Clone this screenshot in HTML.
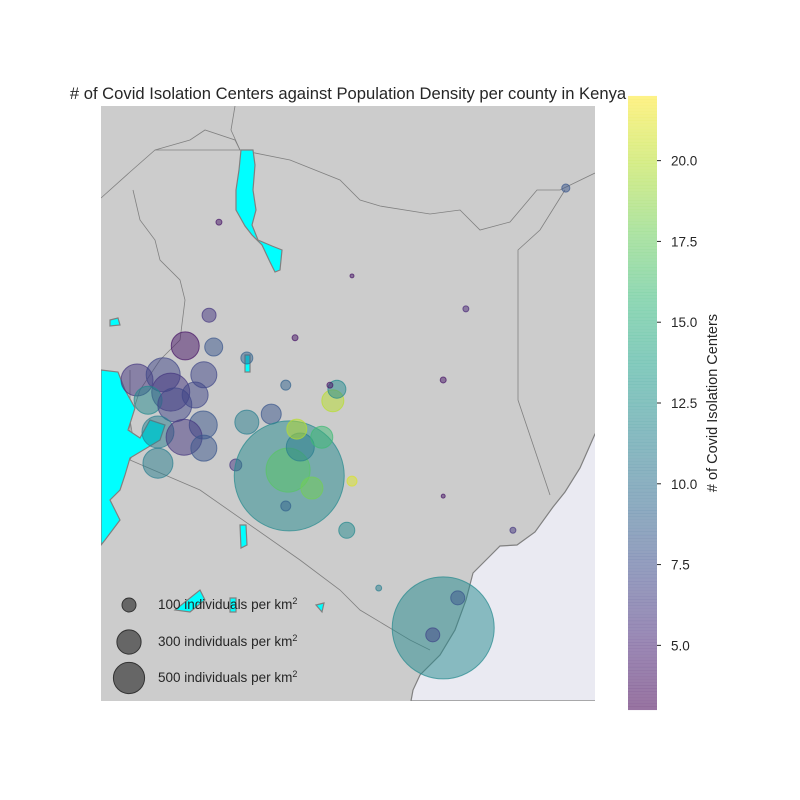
<!DOCTYPE html>
<html><head><meta charset="utf-8"><style>
html,body{margin:0;padding:0;background:#fff;}
svg{display:block;font-family:"Liberation Sans",Arial,sans-serif;}
</style></head><body>
<svg id="chart" width="800" height="800" viewBox="0 0 800 800">
<text x="348" y="99" text-anchor="middle" font-size="16.6" fill="#262626"># of Covid Isolation Centers against Population Density per county in Kenya</text>
<g>
<defs><clipPath id="mapclip"><rect x="101" y="106" width="494" height="595"/></clipPath></defs>
<g clip-path="url(#mapclip)">
<rect x="101" y="106" width="494" height="595" fill="#cccccc"/>
<polygon fill="#eaeaf2" stroke="#808080" stroke-width="1.2" points="595,434 580,468 565,492 553,507 535,532 517,545 500,546 490,556 473,573 466,600 455,630 440,655 420,675 413,690 411,701 600,701 600,434"/>
<g fill="none" stroke="#808080" stroke-width="0.8">
<polyline points="101,198 130,172 155,150 240,150 290,160 340,180 360,200 380,206 430,214 460,210 480,230 510,222 537,190 560,190 595,173"/>
<polyline points="155,150 190,140 205,130 235,140 240,150"/>
<polyline points="235,106 231,130 240,150"/>
<polyline points="565,190 540,230 518,250 518,400 550,495"/>
<polyline points="133,190 140,220 155,240 160,260 180,280 185,300 180,340 160,360 140,390 130,420 135,450 130,460 101,460"/>
<polyline points="130,460 200,490 300,560 340,590 360,610 410,640 430,650"/>
<polyline points="130,370 130,460"/>
</g>
<g fill="#00ffff" stroke="#808080" stroke-width="1.2">
<path d="M241,150 L253,150 L255,165 L253,190 L256,210 L252,225 L258,240 L272,246 L282,250 L280,270 L275,272 L270,262 L262,245 L252,235 L245,226 L236,210 L236,190 L239,170 Z"/>
<path d="M101,370 L118,372 L125,390 L135,408 L128,430 L140,438 L150,420 L165,425 L160,440 L130,458 L125,475 L120,490 L110,500 L120,520 L105,540 L101,545 Z"/>
<path d="M240,525 L246,525 L247,545 L241,548 Z"/>
<path d="M175,610 L200,590 L205,600 L190,612 Z"/>
<path d="M230,598 L236,598 L236,612 L230,612 Z"/>
<path d="M316,605 L324,603 L322,612 Z"/>
<path d="M245,355 L250,355 L250,372 L245,372 Z"/>
<path d="M110,320 L118,318 L120,325 L110,326 Z"/>
</g>
</g>
</g>
<g id="bubbles"></g>
<g id="legend">
<circle cx="129" cy="605" r="7" fill="rgba(0,0,0,0.5)" stroke="#333" stroke-width="1"/>
<circle cx="129" cy="642" r="12.1" fill="rgba(0,0,0,0.5)" stroke="#333" stroke-width="1"/>
<circle cx="129" cy="678" r="15.6" fill="rgba(0,0,0,0.5)" stroke="#333" stroke-width="1"/>
<text x="158" y="609" font-size="13.5" fill="#262626">100 individuals per km<tspan dy="-5" font-size="9">2</tspan></text>
<text x="158" y="646" font-size="13.5" fill="#262626">300 individuals per km<tspan dy="-5" font-size="9">2</tspan></text>
<text x="158" y="682" font-size="13.5" fill="#262626">500 individuals per km<tspan dy="-5" font-size="9">2</tspan></text>
</g>
<g id="colorbar"></g>
<text transform="translate(717,403) rotate(-90)" text-anchor="middle" font-size="14.5" fill="#262626"># of Covid Isolation Centers</text>
</svg>
<script>
const lons=[35.36,34.95,35.44,36.01,34.12,34.57,35.27,34.70,35.12,34.31,34.77,35.26,34.48,34.93,35.27,34.48,36.01,36.43,35.82,36.74,36.72,36.93,37.30,36.87,37.13,36.68,37.49,37.56,37.44,36.68,37.82,37.73,36.84,37.82,35.53,39.78,39.39,39.39,41.50,39.39,39.64,39.21,38.28,40.59];
const lats=[1.68,1.15,1.13,0.94,0.56,0.65,0.65,0.35,0.30,0.21,0.13,-0.22,-0.34,-0.43,-0.62,-0.88,-0.17,-0.03,-0.91,-1.10,-1.00,-0.60,-0.43,-0.29,-1.31,-1.62,0.20,0.40,0.47,0.47,-1.19,-2.04,1.29,2.36,3.29,1.79,0.56,-1.45,3.88,-3.73,-3.21,-3.85,-3.04,-2.04];
const densities=[100,400,165,73,522,590,345,737,345,400,590,400,522,661,345,459,294,204,73,6173,988,400,247,204,247,51,247,165,18,51,51,131,18,8,18,18,18,8,33,5308,100,100,18,18];
const centers=[6,4,8,9,6,7,7,6,7,12,7,8,11,6,8,11,11,8,6,12,17,11,16,20,18,9,20,12,4,9,21,12,4,4,4,5,4,4,8,12,8,7,11,6];
const cbTicks=[5,7.5,10,12.5,15,17.5,20];
const cMin=3.0,cMax=22.0;
const xScale=lon=>101+(lon-33.5)*58.1;
const yScale=lat=>106+(5.3-lat)*57.8;
const rScale=d=>0.7*Math.sqrt(d);
const cbY=v=>710-(v-cMin)/(cMax-cMin)*614;
const vir=[[68,1,84],[72,40,120],[62,74,137],[49,104,142],[38,130,142],[31,158,137],[53,183,121],[109,205,89],[180,222,44],[253,231,37]];
function viridis(t){t=Math.max(0,Math.min(1,t));const p=t*(vir.length-1),i=Math.min(vir.length-2,Math.floor(p)),f=p-i;
return vir[i].map((c,k)=>Math.round(c+(vir[i+1][k]-c)*f));}
const NS="http://www.w3.org/2000/svg";
const bg=document.getElementById('bubbles');
lons.forEach((lon,i)=>{
const c=document.createElementNS(NS,'circle');
const col=viridis((centers[i]-cMin)/(cMax-cMin));
c.setAttribute('cx',xScale(lon));c.setAttribute('cy',yScale(lats[i]));c.setAttribute('r',rScale(densities[i]));
c.setAttribute('fill',`rgba(${col},0.5)`);c.setAttribute('stroke',`rgba(${col},0.7)`);c.setAttribute('stroke-width','1');


bg.appendChild(c);});
const cb=document.getElementById('colorbar');
for(let k=0;k<200;k++){const v=cMin+(k+0.5)/200*(cMax-cMin);const col=viridis((v-cMin)/(cMax-cMin));
const r=document.createElementNS(NS,'rect');r.setAttribute('x',628);r.setAttribute('width',29);
r.setAttribute('y',cbY(v)-1.6);r.setAttribute('height',3.2);r.setAttribute('fill',`rgba(${col},0.55)`);


cb.appendChild(r);}
cbTicks.forEach(v=>{const y=cbY(v);
const l=document.createElementNS(NS,'line');l.setAttribute('x1',657);l.setAttribute('x2',661);l.setAttribute('y1',y);l.setAttribute('y2',y);l.setAttribute('stroke','#262626');


cb.appendChild(l);
const t=document.createElementNS(NS,'text');t.setAttribute('x',671);t.setAttribute('y',y+5);t.setAttribute('font-size','13.5');t.setAttribute('fill','#262626');t.textContent=v.toFixed(1);


cb.appendChild(t);});
</script>
</body></html>
